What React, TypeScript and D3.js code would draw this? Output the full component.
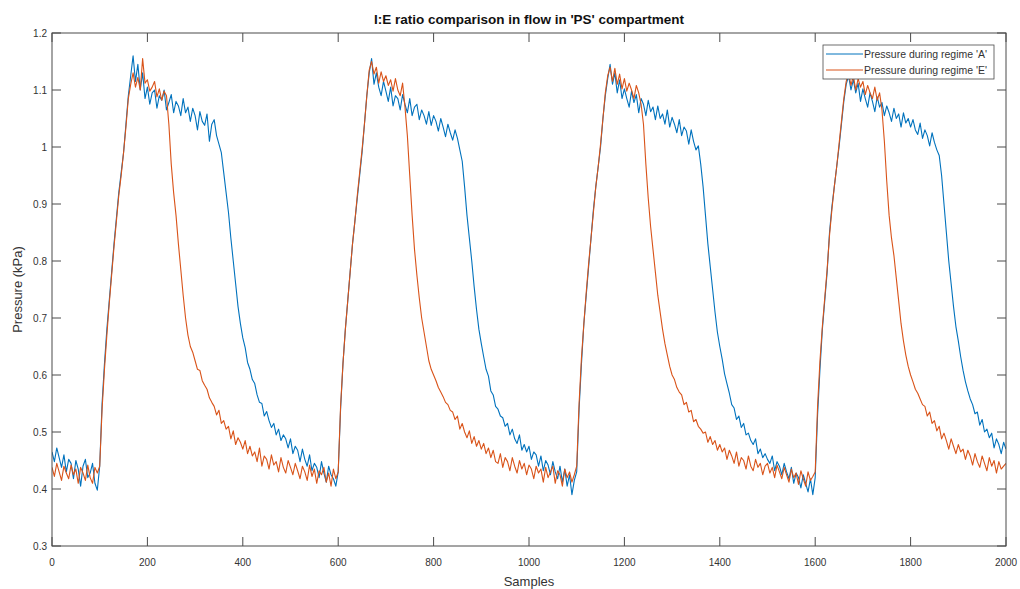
import React from "react";
import * as d3 from "d3";

// x positions: one reading every 5 samples, 0..2000
const STEP = 5;
const samples: number[] = d3.range(0, 2001, STEP);

const xTicks = [0, 200, 400, 600, 800, 1000, 1200, 1400, 1600, 1800, 2000];
const yTicks = [0.3, 0.4, 0.5, 0.6, 0.7, 0.8, 0.9, 1, 1.1, 1.2];
const yTickLabels = ["0.3", "0.4", "0.5", "0.6", "0.7", "0.8", "0.9", "1", "1.1", "1.2"];

const seriesNames = ["Pressure during regime 'A'", "Pressure during regime 'E'"];
const seriesColors = ["#0072BD", "#D95319"];

// Pressure during regime 'A' (blue), read every 5 samples
const pressureA: number[] = [
  0.465, 0.448, 0.472, 0.455, 0.438, 0.46, 0.43, 0.452, 0.445, 0.418, 0.45, 0.435, 0.405, 0.44, 0.452, 0.42, 0.428, 0.445, 0.41, 0.398,
  0.44, 0.55, 0.62, 0.68, 0.73, 0.78, 0.83, 0.875, 0.92, 0.955, 0.99, 1.04, 1.09, 1.125, 1.16, 1.115, 1.145, 1.10, 1.13, 1.085,
  1.105, 1.075, 1.095, 1.10, 1.068, 1.09, 1.082, 1.10, 1.065, 1.078, 1.092, 1.06, 1.08, 1.072, 1.055, 1.085, 1.06, 1.07, 1.045, 1.068,
  1.055, 1.03, 1.062, 1.045, 1.038, 1.058, 1.01, 1.04, 1.048, 1.02, 1.005, 0.99, 0.955, 0.92, 0.885, 0.84, 0.80, 0.76, 0.72, 0.69,
  0.665, 0.648, 0.622, 0.61, 0.592, 0.585, 0.565, 0.552, 0.55, 0.528, 0.536, 0.52, 0.508, 0.515, 0.495, 0.505, 0.485, 0.495, 0.488, 0.472,
  0.488, 0.462, 0.475, 0.468, 0.448, 0.47, 0.452, 0.44, 0.46, 0.432, 0.445, 0.438, 0.42, 0.448, 0.428, 0.412, 0.44, 0.425, 0.418, 0.405,
  0.43, 0.54, 0.62, 0.68, 0.73, 0.78, 0.83, 0.87, 0.91, 0.95, 0.99, 1.04, 1.09, 1.13, 1.155, 1.11, 1.13, 1.105, 1.09, 1.115,
  1.098, 1.08, 1.105, 1.072, 1.09, 1.085, 1.065, 1.092, 1.075, 1.06, 1.085, 1.055, 1.07, 1.075, 1.048, 1.065, 1.055, 1.04, 1.062, 1.038,
  1.055, 1.045, 1.028, 1.05, 1.035, 1.018, 1.04, 1.025, 1.012, 1.03, 1.015, 0.995, 0.975, 0.93, 0.88, 0.84, 0.80, 0.755, 0.715, 0.68,
  0.655, 0.632, 0.61, 0.598, 0.572, 0.565, 0.545, 0.54, 0.528, 0.525, 0.51, 0.515, 0.495, 0.505, 0.488, 0.48, 0.495, 0.468, 0.478, 0.465,
  0.475, 0.452, 0.465, 0.46, 0.44, 0.458, 0.432, 0.45, 0.442, 0.425, 0.448, 0.43, 0.418, 0.44, 0.412, 0.435, 0.405, 0.425, 0.39, 0.415,
  0.43, 0.54, 0.62, 0.69, 0.74, 0.79, 0.84, 0.89, 0.93, 0.965, 1.00, 1.05, 1.09, 1.12, 1.145, 1.11, 1.13, 1.095, 1.118, 1.085,
  1.102, 1.085, 1.07, 1.098, 1.078, 1.092, 1.06, 1.085, 1.075, 1.055, 1.082, 1.062, 1.07, 1.048, 1.072, 1.05, 1.058, 1.04, 1.065, 1.035,
  1.052, 1.04, 1.025, 1.048, 1.02, 1.035, 1.028, 1.005, 1.03, 1.01, 0.995, 1.002, 0.97, 0.93, 0.88, 0.83, 0.79, 0.75, 0.71, 0.675,
  0.65, 0.628, 0.602, 0.585, 0.568, 0.548, 0.542, 0.522, 0.528, 0.508, 0.515, 0.495, 0.498, 0.485, 0.478, 0.488, 0.462, 0.47, 0.455, 0.462,
  0.452, 0.445, 0.458, 0.432, 0.448, 0.44, 0.425, 0.445, 0.43, 0.418, 0.438, 0.41, 0.428, 0.42, 0.402, 0.425, 0.41, 0.395, 0.418, 0.39,
  0.42, 0.53, 0.61, 0.68, 0.73, 0.78, 0.85, 0.895, 0.93, 0.965, 1.00, 1.04, 1.08, 1.11, 1.125, 1.10, 1.118, 1.095, 1.112, 1.08,
  1.102, 1.085, 1.07, 1.095, 1.08, 1.062, 1.088, 1.07, 1.078, 1.055, 1.072, 1.06, 1.045, 1.068, 1.05, 1.058, 1.035, 1.06, 1.042, 1.05,
  1.035, 1.048, 1.03, 1.022, 1.042, 1.015, 1.03, 1.02, 1.002, 1.025, 1.008, 0.995, 0.985, 0.95, 0.90, 0.85, 0.80, 0.76, 0.72, 0.685,
  0.66, 0.632, 0.608, 0.588, 0.572, 0.558, 0.548, 0.532, 0.535, 0.512, 0.522, 0.50, 0.505, 0.49, 0.498, 0.472, 0.488, 0.478, 0.462, 0.482,
  0.47,
];

// Pressure during regime 'E' (orange), read every 5 samples
const pressureE: number[] = [
  0.438, 0.422, 0.445, 0.43, 0.415, 0.44, 0.428, 0.418, 0.442, 0.425, 0.435, 0.41, 0.438, 0.428, 0.415, 0.442, 0.42, 0.41, 0.438, 0.428,
  0.44, 0.54, 0.61, 0.67, 0.725, 0.775, 0.825, 0.87, 0.915, 0.95, 0.99, 1.035, 1.085, 1.11, 1.13, 1.105, 1.122, 1.10, 1.155, 1.112,
  1.118, 1.098, 1.105, 1.115, 1.088, 1.102, 1.082, 1.098, 1.09, 1.04, 0.97, 0.92, 0.88, 0.83, 0.785, 0.74, 0.70, 0.67, 0.65, 0.64,
  0.625, 0.61, 0.608, 0.59, 0.582, 0.575, 0.56, 0.552, 0.545, 0.53, 0.538, 0.515, 0.52, 0.505, 0.51, 0.488, 0.502, 0.478, 0.49, 0.482,
  0.47, 0.485, 0.462, 0.475, 0.458, 0.465, 0.448, 0.472, 0.44, 0.458, 0.452, 0.435, 0.46, 0.442, 0.448, 0.43, 0.455, 0.438, 0.428, 0.45,
  0.438, 0.425, 0.445, 0.432, 0.418, 0.44, 0.43, 0.415, 0.442, 0.422, 0.435, 0.41, 0.432, 0.425, 0.438, 0.412, 0.428, 0.405, 0.435, 0.418,
  0.43, 0.545, 0.62, 0.68, 0.73, 0.78, 0.83, 0.87, 0.915, 0.955, 0.995, 1.04, 1.09, 1.135, 1.15, 1.128, 1.14, 1.112, 1.132, 1.115,
  1.125, 1.108, 1.118, 1.098, 1.12, 1.10, 1.09, 1.112, 1.07, 1.02, 0.95, 0.88, 0.82, 0.775, 0.735, 0.70, 0.675, 0.65, 0.625, 0.61,
  0.60, 0.59, 0.578, 0.57, 0.562, 0.552, 0.548, 0.538, 0.535, 0.522, 0.528, 0.505, 0.515, 0.50, 0.49, 0.502, 0.48, 0.492, 0.475, 0.485,
  0.47, 0.48, 0.462, 0.472, 0.455, 0.468, 0.448, 0.445, 0.462, 0.438, 0.455, 0.448, 0.432, 0.455, 0.44, 0.428, 0.45, 0.435, 0.445, 0.425,
  0.442, 0.435, 0.418, 0.44, 0.428, 0.435, 0.412, 0.438, 0.42, 0.43, 0.44, 0.41, 0.432, 0.425, 0.405, 0.435, 0.42, 0.43, 0.412, 0.425,
  0.44, 0.55, 0.63, 0.69, 0.745, 0.795, 0.84, 0.885, 0.93, 0.965, 1.005, 1.05, 1.095, 1.125, 1.14, 1.115, 1.138, 1.11, 1.128, 1.102,
  1.12, 1.098, 1.112, 1.10, 1.085, 1.108, 1.095, 1.075, 1.04, 0.97, 0.91, 0.86, 0.82, 0.78, 0.74, 0.71, 0.68, 0.655, 0.635, 0.615,
  0.60, 0.592, 0.578, 0.57, 0.565, 0.548, 0.552, 0.535, 0.538, 0.518, 0.522, 0.51, 0.505, 0.498, 0.50, 0.482, 0.492, 0.478, 0.485, 0.468,
  0.478, 0.465, 0.472, 0.452, 0.468, 0.458, 0.445, 0.465, 0.44, 0.455, 0.45, 0.435, 0.458, 0.44, 0.432, 0.452, 0.438, 0.445, 0.425, 0.44,
  0.445, 0.428, 0.438, 0.42, 0.442, 0.43, 0.418, 0.438, 0.425, 0.412, 0.435, 0.42, 0.428, 0.408, 0.432, 0.418, 0.405, 0.43, 0.415, 0.422,
  0.43, 0.545, 0.625, 0.685, 0.735, 0.785, 0.845, 0.89, 0.93, 0.965, 1.005, 1.045, 1.085, 1.115, 1.13, 1.108, 1.125, 1.10, 1.12, 1.105,
  1.115, 1.092, 1.108, 1.095, 1.085, 1.105, 1.082, 1.095, 1.065, 1.01, 0.94, 0.88, 0.84, 0.81, 0.77, 0.73, 0.69, 0.66, 0.635, 0.615,
  0.60, 0.588, 0.575, 0.568, 0.558, 0.548, 0.545, 0.528, 0.535, 0.515, 0.52, 0.502, 0.51, 0.488, 0.498, 0.485, 0.47, 0.488, 0.475, 0.462,
  0.478, 0.465, 0.47, 0.452, 0.468, 0.458, 0.442, 0.462, 0.448, 0.438, 0.458, 0.445, 0.432, 0.455, 0.44, 0.45, 0.428, 0.448, 0.435, 0.44,
  0.445,
];

const W = 1020;
const H = 589;
const M = { left: 52, right: 1006, top: 33, bottom: 546 };
const FONT = "'Liberation Sans', Arial, Helvetica, sans-serif";
const AXIS = "#4a4a4a";
const TXT = "#333333";
const TICK = 9;

export default function App() {
  const x = d3.scaleLinear().domain([0, 2000]).range([M.left, M.right]);
  const y = d3.scaleLinear().domain([0.3, 1.2]).range([M.bottom, M.top]);

  const line = d3
    .line<number>()
    .x((_, i) => x(samples[i]))
    .y((d) => y(d));

  const series = [pressureA, pressureE];

  const legX = 823;
  const legY = 45;
  const legW = 171;
  const legH = 34;

  return (
    <svg
      width={W}
      height={H}
      style={{ position: "absolute", left: 0, top: 0, background: "#fff" }}
      fontFamily={FONT}
    >
      <rect x={0} y={0} width={W} height={H} fill="#fff" />
      <defs>
        <clipPath id="plotclip">
          <rect x={M.left} y={M.top} width={M.right - M.left} height={M.bottom - M.top} />
        </clipPath>
      </defs>

      <g clipPath="url(#plotclip)">
        {series.map((s, k) => (
          <path
            key={k}
            d={line(s) || ""}
            fill="none"
            stroke={seriesColors[k]}
            strokeWidth={1.1}
            strokeLinejoin="round"
          />
        ))}
      </g>

      <rect
        x={M.left}
        y={M.top}
        width={M.right - M.left}
        height={M.bottom - M.top}
        fill="none"
        stroke={AXIS}
        strokeWidth={1}
      />

      {xTicks.map((t) => (
        <g key={"x" + t}>
          <line x1={x(t)} x2={x(t)} y1={M.bottom} y2={M.bottom - TICK} stroke={AXIS} />
          <line x1={x(t)} x2={x(t)} y1={M.top} y2={M.top + TICK} stroke={AXIS} />
          <text x={x(t)} y={566} textAnchor="middle" fontSize={10} fill={TXT}>
            {t}
          </text>
        </g>
      ))}

      {yTicks.map((t, i) => (
        <g key={"y" + t}>
          <line x1={M.left} x2={M.left + TICK} y1={y(t)} y2={y(t)} stroke={AXIS} />
          <line x1={M.right} x2={M.right - TICK} y1={y(t)} y2={y(t)} stroke={AXIS} />
          <text x={M.left - 5} y={y(t) + 3.5} textAnchor="end" fontSize={10} fill={TXT}>
            {yTickLabels[i]}
          </text>
        </g>
      ))}

      <text x={(M.left + M.right) / 2} y={586} textAnchor="middle" fontSize={13} fill={TXT}>
        Samples
      </text>
      <text
        transform={`translate(22, ${(M.top + M.bottom) / 2}) rotate(-90)`}
        textAnchor="middle"
        fontSize={13}
        fill={TXT}
      >
        Pressure (kPa)
      </text>

      <text
        x={(M.left + M.right) / 2}
        y={24}
        textAnchor="middle"
        fontSize={13.5}
        fontWeight="bold"
        fill="#111"
      >
        I:E ratio comparison in flow in 'PS' compartment
      </text>

      <g>
        <rect x={legX} y={legY} width={legW} height={legH} fill="#fff" stroke={AXIS} strokeWidth={0.8} />
        {seriesNames.map((n, k) => (
          <g key={n}>
            <line
              x1={legX + 3}
              x2={legX + 40}
              y1={legY + 9 + k * 16}
              y2={legY + 9 + k * 16}
              stroke={seriesColors[k]}
              strokeWidth={1}
            />
            <text x={legX + 41} y={legY + 13 + k * 16} fontSize={10.5} fill={TXT}>
              {n}
            </text>
          </g>
        ))}
      </g>
    </svg>
  );
}
